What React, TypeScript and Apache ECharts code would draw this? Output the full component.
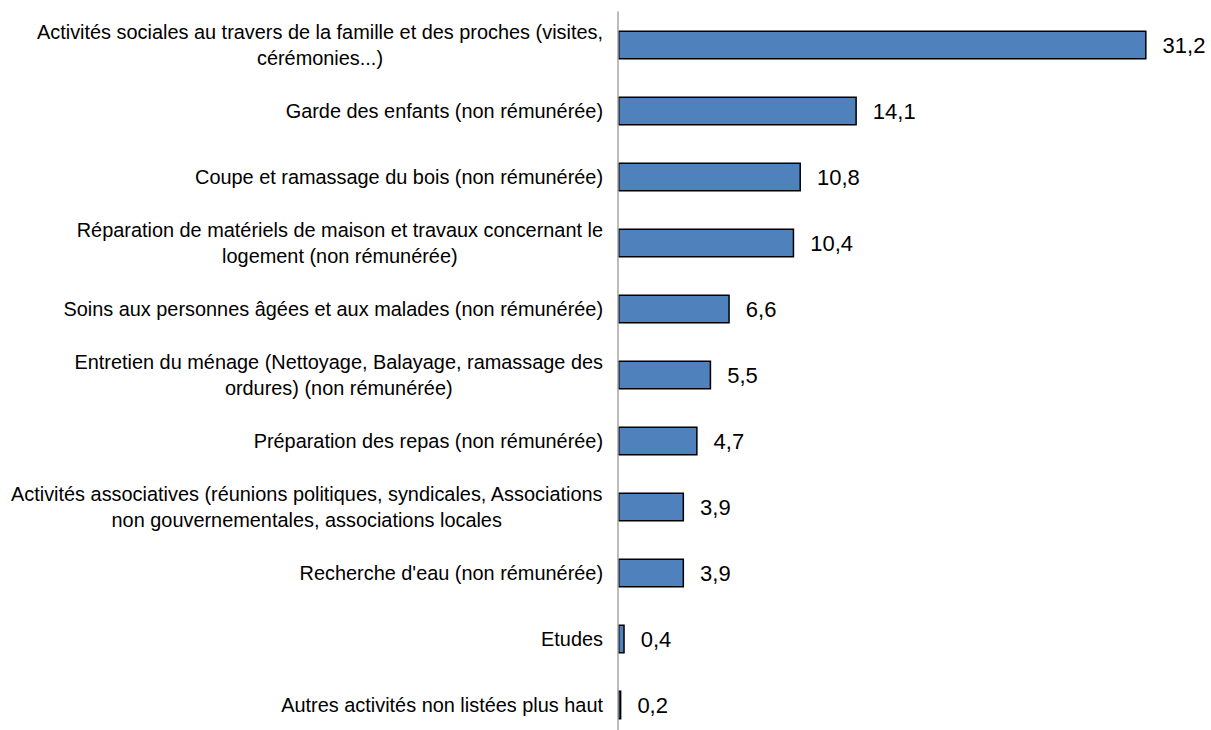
import React, { useEffect, useRef } from "react";
import * as echarts from "echarts";

const categories: string[] = [
  "Activités sociales au travers de la famille et des proches (visites,\ncérémonies...)",
  "Garde des enfants (non rémunérée)",
  "Coupe et ramassage du bois (non rémunérée)",
  "Réparation de matériels de maison et travaux concernant le\nlogement (non rémunérée)",
  "Soins aux personnes âgées et aux malades (non rémunérée)",
  "Entretien du ménage (Nettoyage, Balayage, ramassage des\nordures) (non rémunérée)",
  "Préparation des repas (non rémunérée)",
  "Activités associatives (réunions politiques, syndicales, Associations\nnon gouvernementales, associations locales",
  "Recherche d'eau (non rémunérée)",
  "Etudes",
  "Autres activités non listées plus haut",
];

const values: number[] = [31.2, 14.1, 10.8, 10.4, 6.6, 5.5, 4.7, 3.9, 3.9, 0.4, 0.2];

const FONT = "'Liberation Sans', Arial, sans-serif";

export default function App() {
  const ref = useRef<HTMLDivElement>(null);
  useEffect(() => {
    document.body.style.margin = "0";
    document.body.style.overflow = "hidden";
    const chart = echarts.init(ref.current!, null, { renderer: "svg" });
    chart.setOption({
      animation: false,
      backgroundColor: "#ffffff",
      grid: {
        left: 618,
        top: 12,
        height: 726,
        width: 576,
        containLabel: false,
        outerBoundsMode: "none",
      },
      xAxis: {
        type: "value",
        min: 0,
        max: 34,
        show: false,
      },
      yAxis: {
        type: "category",
        inverse: true,
        data: categories,
        z: 5,
        axisLine: { show: true, lineStyle: { color: "#a6a6a6", width: 1.5 } },
        axisTick: { show: false },
        axisLabel: {
          margin: 15,
          align: "right",
          formatter: (v: string) =>
            v
              .split("\n")
              .map((l) => "{c|" + l + "}")
              .join("\n"),
          rich: {
            c: {
              align: "center",
              fontFamily: FONT,
              fontSize: 19.9,
              lineHeight: 26,
              color: "#000000",
            },
          },
        },
        splitLine: { show: false },
      },
      series: [
        {
          type: "bar",
          data: values,
          barWidth: 29,
          itemStyle: { color: "#4f81bd", borderColor: "#000000", borderWidth: 1.5 },
          label: {
            show: true,
            position: "right",
            distance: 16,
            fontFamily: FONT,
            fontSize: 22,
            color: "#000000",
            formatter: (p: any) => String(p.value).replace(".", ","),
          },
        },
      ],
    });
    return () => chart.dispose();
  }, []);
  return <div ref={ref} style={{ width: 1211, height: 730 }} />;
}
